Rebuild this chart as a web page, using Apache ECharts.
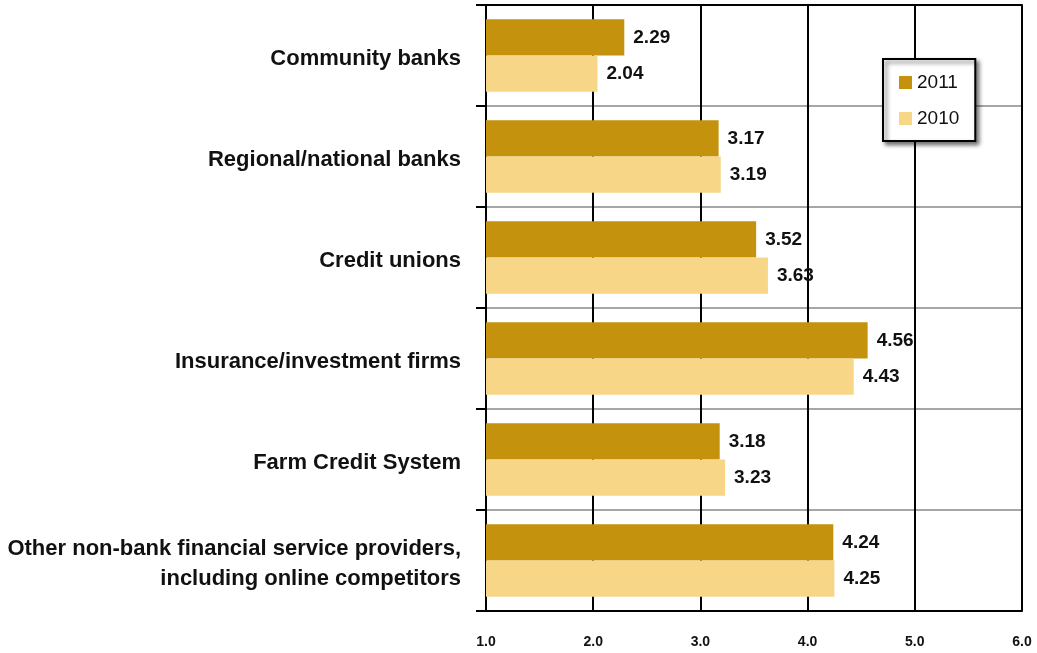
<!DOCTYPE html>
<html>
<head>
<meta charset="utf-8">
<script src="https://cdn.jsdelivr.net/npm/echarts@6/dist/echarts.min.js"></script>
<style>
  html, body { margin: 0; padding: 0; background: #fff; }
  #chart { width: 1037px; height: 653px; }
</style>
</head>
<body>
<div id="chart"></div>
<script>
// Lender categories, top to bottom
const categories = [
  'Community banks',
  'Regional/national banks',
  'Credit unions',
  'Insurance/investment firms',
  'Farm Credit System',
  'Other non-bank financial service providers,\nincluding online competitors'
];
const seriesNames = ['2011', '2010'];
const values2011 = [2.29, 3.17, 3.52, 4.56, 3.18, 4.24];
const values2010 = [2.04, 3.19, 3.63, 4.43, 3.23, 4.25];
const axisMin = 1;
const axisMax = 6;
const axisStep = 1;

const FONT = '"Liberation Sans", Arial, sans-serif';
const DARK = '#C4920C';
const LIGHT = '#F8D688';

const chart = echarts.init(document.getElementById('chart'), null, { renderer: 'canvas' });

const valueLabel = {
  show: true,
  position: 'right',
  distance: 9,
  fontFamily: FONT,
  fontWeight: 'bold',
  fontSize: 19,
  color: '#111',
  formatter: p => p.value.toFixed(2)
};

chart.setOption({
  animation: false,
  backgroundColor: '#fff',
  grid: { left: 486, right: 15, top: 5, bottom: 42 },
  legend: {
    orient: 'vertical',
    left: 883,
    top: 59,
    data: seriesNames,
    itemWidth: 13,
    itemHeight: 13,
    itemGap: 17,
    padding: [14, 16, 13, 16],
    backgroundColor: '#fff',
    borderColor: '#000',
    borderWidth: 2,
    borderRadius: 0,
    shadowColor: 'rgba(0,0,0,0.55)',
    shadowBlur: 4,
    shadowOffsetX: 3,
    shadowOffsetY: 3,
    textStyle: { fontFamily: FONT, fontSize: 19, color: '#111' },
    icon: 'rect'
  },
  xAxis: [
    {
      type: 'value',
      min: axisMin,
      max: axisMax,
      interval: axisStep,
      axisLine: { show: true, lineStyle: { color: '#000', width: 2 } },
      axisTick: { show: false },
      splitLine: { show: true, lineStyle: { color: '#000', width: 2 } },
      axisLabel: {
        margin: 24,
        fontFamily: FONT,
        fontWeight: 'bold',
        fontSize: 14,
        color: '#111',
        formatter: v => v.toFixed(1)
      }
    },
    {
      // closes the plot frame along the top edge
      type: 'value',
      position: 'top',
      min: axisMin,
      max: axisMax,
      interval: axisStep,
      z: 5,
      axisLine: { show: true, lineStyle: { color: '#000', width: 2 } },
      axisTick: { show: false },
      axisLabel: { show: false },
      splitLine: { show: false }
    }
  ],
  yAxis: {
    type: 'category',
    data: categories,
    inverse: true,
    axisLine: { show: true, lineStyle: { color: '#000', width: 2 } },
    axisTick: { show: true, length: 10, lineStyle: { color: '#000', width: 2 } },
    splitLine: { show: true, lineStyle: { color: '#A6A6A6', width: 2 } },
    axisLabel: {
      margin: 25,
      align: 'right',
      color: '#111',
      formatter: v => v.split('\n').map(line => '{c|' + line + '}').join('\n'),
      rich: {
        c: {
          fontFamily: FONT,
          fontWeight: 'bold',
          fontSize: 22,
          lineHeight: 30,
          padding: [6, 0, 0, 0],
          align: 'right',
          color: '#111'
        }
      }
    }
  },
  series: [
    {
      name: seriesNames[0],
      type: 'bar',
      data: values2011,
      barGap: '0%',
      barCategoryGap: '28%',
      itemStyle: { color: DARK },
      label: valueLabel
    },
    {
      name: seriesNames[1],
      type: 'bar',
      data: values2010,
      barGap: '0%',
      barCategoryGap: '28%',
      itemStyle: { color: LIGHT },
      label: valueLabel
    }
  ]
});
</script>
</body>
</html>
